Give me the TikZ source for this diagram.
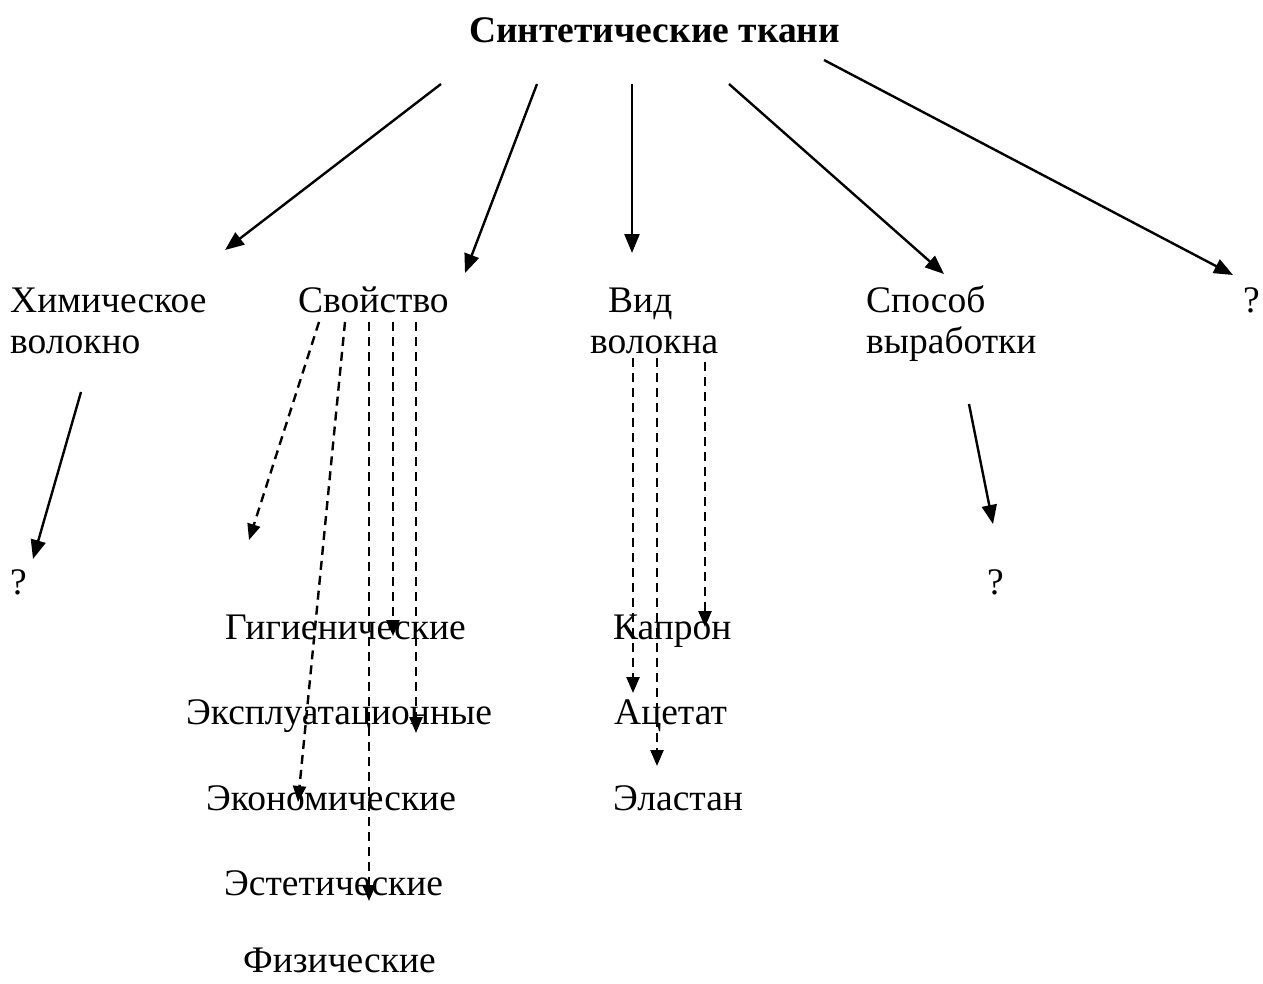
\documentclass[tikz,border=0pt]{standalone}
\usepackage{fontspec}
\setmainfont{Liberation Serif}
\usetikzlibrary{arrows.meta}
\begin{document}
\begin{tikzpicture}[x=1pt,y=-1pt,
  lbl/.style={inner sep=0pt,anchor=base west,font=\fontsize{37.5}{43}\selectfont},
  ttl/.style={inner sep=0pt,anchor=base west,font=\fontsize{37.5}{43}\selectfont\bfseries},
  solidarrow/.style={line width=2.4pt,-{Triangle[length=19pt,width=15pt]}},
  dasharrow/.style={line width=2.4pt,dash pattern=on 9pt off 6pt,-{Triangle[length=16pt,width=13pt]}}]
\useasboundingbox (0,0) rectangle (1263,983);
% texts
\node[ttl] (title) at (469,42) {Синтетические ткани};
\node[lbl] (chemA) at (10,312) {Химическое};
\node[lbl] (chemB) at (10,353) {волокно};
\node[lbl] (prop) at (298,312) {Свойство};
\node[lbl] (kindA) at (608,312) {Вид};
\node[lbl] (kindB) at (590,353) {волокна};
\node[lbl] (methA) at (866,312) {Способ};
\node[lbl] (methB) at (866,353) {выработки};
\node[lbl] (q1) at (1243,312) {?};
\node[lbl] (q2) at (10,594) {?};
\node[lbl] (q3) at (987,594) {?};
\node[lbl] (hyg) at (225,639) {Гигиенические};
\node[lbl] (expl) at (186,724) {Эксплуатационные};
\node[lbl] (econ) at (206,810) {Экономические};
\node[lbl] (aest) at (224,895) {Эстетические};
\node[lbl] (phys) at (243,972) {Физические};
\node[lbl] (kapr) at (613,639) {Капрон};
\node[lbl] (acet) at (614,724) {Ацетат};
\node[lbl] (elas) at (613,810) {Эластан};
% connector end points
\coordinate (t1) at (441,84);  \coordinate (e1) at (225,250);
\coordinate (t2) at (537,84);  \coordinate (e2) at (465,273);
\coordinate (t3) at (632,84);  \coordinate (e3) at (632,253);
\coordinate (t4) at (729,84);  \coordinate (e4) at (944,274);
\coordinate (t5) at (824,60);  \coordinate (e5) at (1233,275);
\coordinate (c1) at (81,392);  \coordinate (ce) at (33,559);
\coordinate (m1) at (969,404); \coordinate (me) at (993,524);
\coordinate (p1) at (319,322); \coordinate (pe1) at (249,540);
\coordinate (p2) at (345,322); \coordinate (pe2) at (298,802);
\coordinate (p3) at (369,322); \coordinate (pe3) at (369,901);
\coordinate (p4) at (393,322); \coordinate (pe4) at (393,636);
\coordinate (p5) at (416,322); \coordinate (pe5) at (416,733);
\coordinate (k1) at (633,358); \coordinate (ke1) at (633,693);
\coordinate (k2) at (657,358); \coordinate (ke2) at (657,766);
\coordinate (k3) at (705,362); \coordinate (ke3) at (705,627);
% solid arrows
\draw[solidarrow] (t1) -- (e1);
\draw[solidarrow] (t2) -- (e2);
\draw[solidarrow] (t3) -- (e3);
\draw[solidarrow] (t4) -- (e4);
\draw[solidarrow] (t5) -- (e5);
\draw[solidarrow] (c1) -- (ce);
\draw[solidarrow] (m1) -- (me);
% dashed arrows
\draw[dasharrow] (p1) -- (pe1);
\draw[dasharrow] (p2) -- (pe2);
\draw[dasharrow] (p3) -- (pe3);
\draw[dasharrow] (p4) -- (pe4);
\draw[dasharrow] (p5) -- (pe5);
\draw[dasharrow] (k1) -- (ke1);
\draw[dasharrow] (k2) -- (ke2);
\draw[dasharrow] (k3) -- (ke3);
\end{tikzpicture}
\end{document}
